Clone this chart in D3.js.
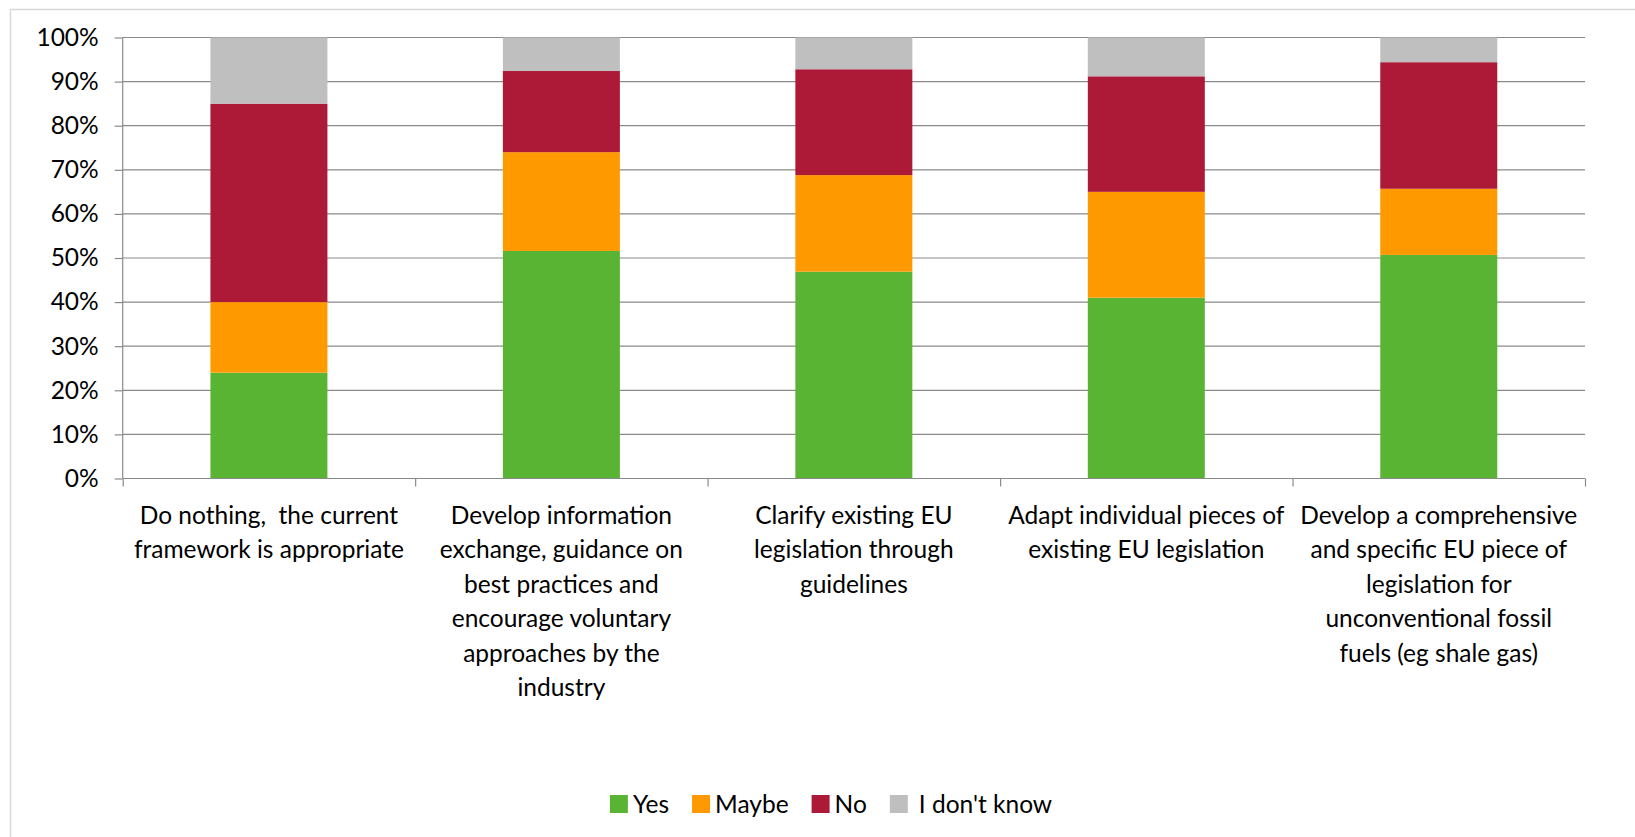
<!DOCTYPE html>
<html>
<head>
<meta charset="utf-8">
<script src="https://cdn.jsdelivr.net/npm/d3@7"></script>
<style>
  body { margin: 0; background: #fff; }
  svg { display: block; }
  text { font-family: Lato, "Open Sans", sans-serif; fill: #000; }
</style>
</head>
<body>
<script>
// categories and tick labels
var categories = [
  "Do nothing,  the current framework is appropriate",
  "Develop information exchange, guidance on best practices and encourage voluntary approaches by the industry",
  "Clarify existing EU legislation through guidelines",
  "Adapt individual pieces of existing EU legislation",
  "Develop a comprehensive and specific EU piece of legislation for unconventional fossil fuels (eg shale gas)"
];
// how the labels wrap in the original
var labelLines = [
  ["Do nothing,  the current", "framework is appropriate"],
  ["Develop information", "exchange, guidance on", "best practices and", "encourage voluntary", "approaches by the", "industry"],
  ["Clarify existing EU", "legislation through", "guidelines"],
  ["Adapt individual pieces of", "existing EU legislation"],
  ["Develop a comprehensive", "and specific EU piece of", "legislation for", "unconventional fossil", "fuels (eg shale gas)"]
];
var seriesNames = ["Yes", "Maybe", "No", "I don't know"];

// values in percent
var yes      = [24.0, 51.6, 46.9, 41.0, 50.7];
var maybe    = [16.0, 22.4, 21.9, 24.0, 15.0];
var no       = [45.0, 18.4, 24.0, 26.2, 28.7];
var dontKnow = [15.0, 7.6, 7.2, 8.8, 5.6];

var yTicks = [0, 10, 20, 30, 40, 50, 60, 70, 80, 90, 100];

var colors = ["#5ab434", "#ff9900", "#ad1a37", "#bfbfbf"];

var W = 1635, H = 837;
var plotLeft = 122.7, plotRight = 1585, plotTop = 37.5, plotBottom = 478.5;

var svg = d3.select("body").append("svg")
    .attr("width", W)
    .attr("height", H);

// chart area border (only top and left show in the crop)
svg.append("rect")
    .attr("x", 10.5).attr("y", 9.5)
    .attr("width", W + 20).attr("height", H + 20)
    .style("fill", "#fff")
    .style("stroke", "#d9d9d9")
    .style("stroke-width", 1.5);

var data = categories.map(function(c, i) {
  return {cat: c, "Yes": yes[i], "Maybe": maybe[i], "No": no[i], "I don't know": dontKnow[i]};
});

var stack = d3.stack().keys(seriesNames);
var layers = stack(data);

var x = d3.scaleBand()
    .domain(categories)
    .range([plotLeft, plotRight])
    .paddingInner(0.6)
    .paddingOuter(0.3);

var y = d3.scaleLinear().domain([0, 100]).range([plotBottom, plotTop]);

// category boundaries for the x ticks
var xb = d3.scaleLinear().domain([0, categories.length]).range([plotLeft, plotRight]);

// gridlines
svg.append("g")
  .selectAll("line")
  .data(yTicks.filter(function(d) { return d > 0; }))
  .enter().append("line")
    .attr("x1", plotLeft).attr("x2", plotRight)
    .attr("y1", function(d) { return y(d); })
    .attr("y2", function(d) { return y(d); })
    .style("stroke", "#8a8a8a")
    .style("stroke-width", 1.2);

// bars
svg.append("g")
  .selectAll("g")
  .data(layers)
  .enter().append("g")
    .style("fill", function(d, i) { return colors[i]; })
  .selectAll("rect")
  .data(function(d) { return d; })
  .enter().append("rect")
    .attr("x", function(d) { return x(d.data.cat); })
    .attr("width", x.bandwidth())
    .attr("y", function(d) { return y(d[1]); })
    .attr("height", function(d) { return y(d[0]) - y(d[1]); });

// y axis
var yAxis = svg.append("g")
    .attr("transform", "translate(" + plotLeft + ",0)")
    .call(d3.axisLeft(y)
      .tickValues(yTicks)
      .tickSize(8)
      .tickPadding(16)
      .tickFormat(function(d) { return d + "%"; }));
yAxis.select(".domain").style("stroke", "#8a8a8a").style("stroke-width", 1.2)
    .attr("d", "M0," + plotBottom + "V" + plotTop);
yAxis.selectAll(".tick line").style("stroke", "#8a8a8a").style("stroke-width", 1.2);
yAxis.selectAll(".tick text")
    .style("font-family", "Lato, sans-serif")
    .style("font-size", "24.5px")
    .style("fill", "#000");

// x axis
var xAxis = svg.append("g")
    .attr("transform", "translate(0," + plotBottom + ")")
    .call(d3.axisBottom(xb)
      .ticks(categories.length)
      .tickSize(8)
      .tickFormat(""));
xAxis.select(".domain").style("stroke", "#8a8a8a").style("stroke-width", 1.2)
    .attr("d", "M" + plotLeft + ",0H" + plotRight);
xAxis.selectAll(".tick line").style("stroke", "#8a8a8a").style("stroke-width", 1.2);

// category labels
var lineH = 34.5;
var labels = svg.append("g")
  .selectAll("text")
  .data(categories)
  .enter().append("text")
    .attr("text-anchor", "middle")
    .style("font-size", "24.5px")
    .style("white-space", "pre")
    .attr("x", function(d) { return x(d) + x.bandwidth() / 2; })
    .attr("y", 515);
labels.each(function(d, i) {
  var t = d3.select(this);
  labelLines[i].forEach(function(line, j) {
    t.append("tspan")
      .attr("x", x(d) + x.bandwidth() / 2)
      .attr("y", 515 + j * lineH)
      .attr("dy", "0.35em")
      .text(line);
  });
});

// legend
var legend = svg.append("g");
var lx = 0;
seriesNames.forEach(function(name, i) {
  var g = legend.append("g").attr("transform", "translate(" + lx + ",0)");
  g.append("rect")
    .attr("x", 0).attr("y", -9)
    .attr("width", 18).attr("height", 18)
    .style("fill", colors[i]);
  var t = g.append("text")
    .attr("x", i == 3 ? 29 : 23)
    .attr("y", 0)
    .attr("dy", "0.35em")
    .style("font-size", "24.5px")
    .text(name);
  lx += (i == 3 ? 29 : 23) + t.node().getComputedTextLength() + 23;
});
var legendW = lx - 23;
legend.attr("transform", "translate(" + (831 - legendW / 2) + ",804)");
</script>
</body>
</html>
